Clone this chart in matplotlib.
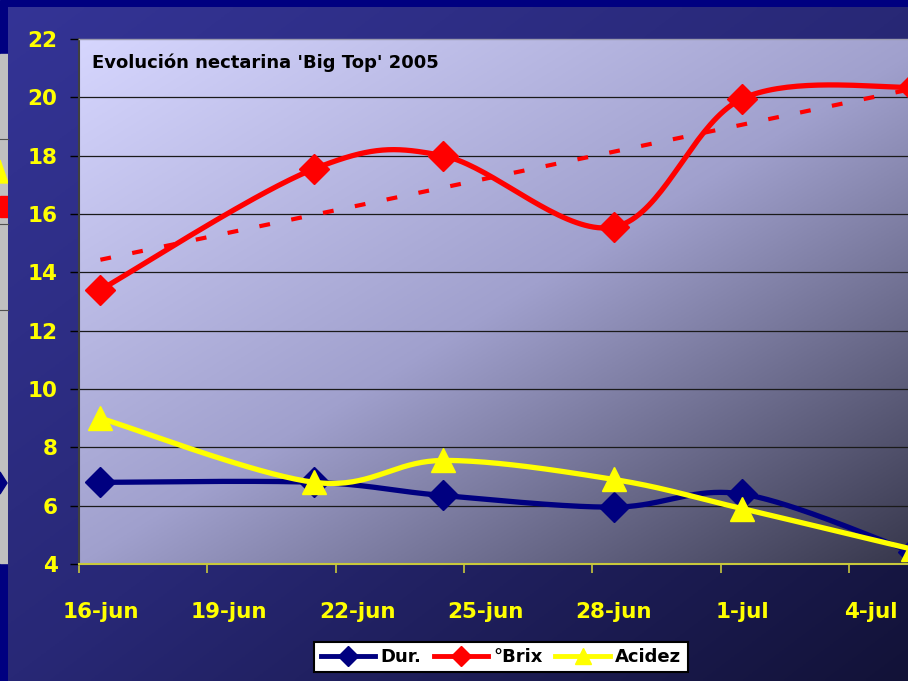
import matplotlib
matplotlib.use("Agg")
import matplotlib.pyplot as plt
from matplotlib.lines import Line2D
from matplotlib.patches import Rectangle, Polygon
import numpy as np
import pandas as pd

# data
dates = ['2005-06-16', '2005-06-21', '2005-06-24', '2005-06-28', '2005-07-01', '2005-07-05']
dur = [6.8, 6.8, 6.35, 5.95, 6.4, 4.4]
brix = [13.4, 17.55, 18.0, 15.55, 19.95, 20.35]
acidez = [9.0, 6.8, 7.55, 6.9, 5.9, 4.5]
tick_labels = ['16-jun', '19-jun', '22-jun', '25-jun', '28-jun', '1-jul', '4-jul']
title = "Evolución nectarina 'Big Top' 2005"

start = pd.Timestamp(dates[0])
days = np.array([(pd.Timestamp(d) - start).days for d in dates], dtype=float)


def smooth(x, y, n=40):
    # excel-like smoothed line (bezier through the points)
    pts = np.column_stack([x, y]).astype(float)
    out = [pts[0]]
    for i in range(len(pts) - 1):
        p0 = pts[i - 1] if i > 0 else pts[i]
        p1 = pts[i]
        p2 = pts[i + 1]
        p3 = pts[i + 2] if i + 2 < len(pts) else pts[i + 1]
        c1 = p1 + (p2 - p0) / 6
        c2 = p2 - (p3 - p1) / 6
        t = np.linspace(0, 1, n)[1:, None]
        seg = (1 - t)**3 * p1 + 3 * (1 - t)**2 * t * c1 + 3 * (1 - t) * t**2 * c2 + t**3 * p2
        out.extend(seg)
    out = np.array(out)
    return out[:, 0], out[:, 1]


def gradient(c0, cm, c1, h=200, w=300):
    # corner gradient: c0 top-left, cm along the other diagonal, c1 bottom-right
    u = np.linspace(0, 1, w)[None, :]
    v = np.linspace(0, 1, h)[:, None]
    t = 0.5 * (u + v)
    c0, cm, c1 = (np.array(c) / 255 for c in (c0, cm, c1))
    a = np.clip(t / 0.5, 0, 1)[..., None]
    b = np.clip((t - 0.5) / 0.5, 0, 1)[..., None]
    img = np.where((t <= 0.5)[..., None], c0 * (1 - a) + cm * a, cm * (1 - b) + c1 * b)
    return img


W, H = 908, 681
fig = plt.figure(figsize=(W / 100, H / 100), dpi=100)

# slide background
bg = fig.add_axes([0, 0, 1, 1], zorder=-1)
bg.set_xlim(0, W)
bg.set_ylim(H, 0)
bg.axis('off')
bg.add_patch(Rectangle((0, 0), W, H, color='#000080'))
bg.add_patch(Rectangle((0, 54), 8, 509, color='#c0c0c0'))
for yy in [139, 224, 310]:
    bg.plot([0, 8], [yy, yy], color='#505050', lw=0.8)
bg.add_patch(Polygon([[0, 160], [8, 183], [0, 183]], color='yellow'))
bg.add_patch(Rectangle((0, 196), 8, 21, color='red'))
bg.add_patch(Polygon([[0, 472], [7, 483], [0, 494]], color='#000080'))
bg.imshow(gradient((52, 52, 150), (40, 40, 118), (18, 18, 55)),
          extent=[8, W, H, 7], aspect='auto', zorder=1)

# plot area
px_day = (849 - 79) / 18
ax = fig.add_axes([79 / W, (H - 564) / H, 20 * px_day / W, 525 / H])
ax.set_facecolor('none')
ax.imshow(gradient((214, 214, 254), (160, 160, 205), (52, 52, 72)),
          extent=[-0.5, 19.5, 4, 22], aspect='auto', zorder=0)
ax.set_xlim(-0.5, 19.5)
ax.set_ylim(4, 22)

for v in range(6, 22, 2):
    ax.axhline(v, color='#1a1a1a', lw=0.9, zorder=1)

lw = 3.8
xs, ys = smooth(days, dur)
ax.plot(xs, ys, color='#000080', lw=lw, zorder=3, solid_capstyle='round')
ax.plot(days, dur, 'D', color='#000080', ms=15, zorder=3)

xs, ys = smooth(days, brix)
ax.plot(xs, ys, color='red', lw=lw, zorder=4, solid_capstyle='round')
ax.plot(days, brix, 'D', color='red', ms=15, zorder=4)

# linear trend line of brix
k, b = np.polyfit(days, brix, 1)
tx = np.array([days[0], days[-1]])
ax.plot(tx, k * tx + b, color='red', lw=3.0, dashes=(2.6, 5.2),
        dash_capstyle='butt', zorder=4.5)

xs, ys = smooth(days, acidez)
ax.plot(xs, ys, color='yellow', lw=lw, zorder=5, solid_capstyle='round')
ax.plot(days, acidez, '^', color='yellow', ms=17, zorder=5)

ax.text(13 / (20 * px_day), (564 - 63) / 525, title, transform=ax.transAxes,
        fontsize=13, fontweight='bold', color='black', va='center', ha='left',
        zorder=6)

# axes styling
ax.spines['right'].set_visible(False)
ax.spines['top'].set_color('#9a9ab0')
ax.spines['top'].set_linewidth(1)
ax.spines['left'].set_color('#404040')
ax.spines['left'].set_linewidth(1.5)
ax.spines['bottom'].set_color('#c8c83c')
ax.spines['bottom'].set_linewidth(1.5)

ax.set_yticks(range(4, 23, 2))
ax.tick_params(axis='y', length=6.5, width=1, color='black', pad=9,
               labelcolor='yellow', labelsize=15.5)
for lab in ax.get_yticklabels():
    lab.set_fontweight('bold')

ax.set_xticks(np.arange(0, 19, 3))
ax.set_xticklabels(tick_labels, fontweight='bold')
ax.set_xticks(np.arange(-0.5, 19, 3), minor=True)
ax.tick_params(axis='x', which='major', length=0, pad=27, labelcolor='yellow',
               labelsize=15.5)
ax.tick_params(axis='x', which='minor', length=6.5, width=1.2, color='#c8c83c')

handles = [
    Line2D([], [], color='#000080', lw=3.5, marker='D', ms=10),
    Line2D([], [], color='red', lw=3.5, marker='D', ms=10),
    Line2D([], [], color='yellow', lw=3.5, marker='^', ms=12),
]
leg = fig.legend(handles, ['Dur.', '°Brix', 'Acidez'], loc='center',
                 bbox_to_anchor=(501 / W, 1 - 657 / H), ncol=3, frameon=True,
                 fancybox=False, edgecolor='black', framealpha=1,
                 prop={'weight': 'bold', 'size': 13}, handlelength=3.0,
                 handletextpad=0.3, columnspacing=0.7, borderpad=0.35)
leg.get_frame().set_linewidth(1.5)

fig.savefig('out.png', dpi=100)
